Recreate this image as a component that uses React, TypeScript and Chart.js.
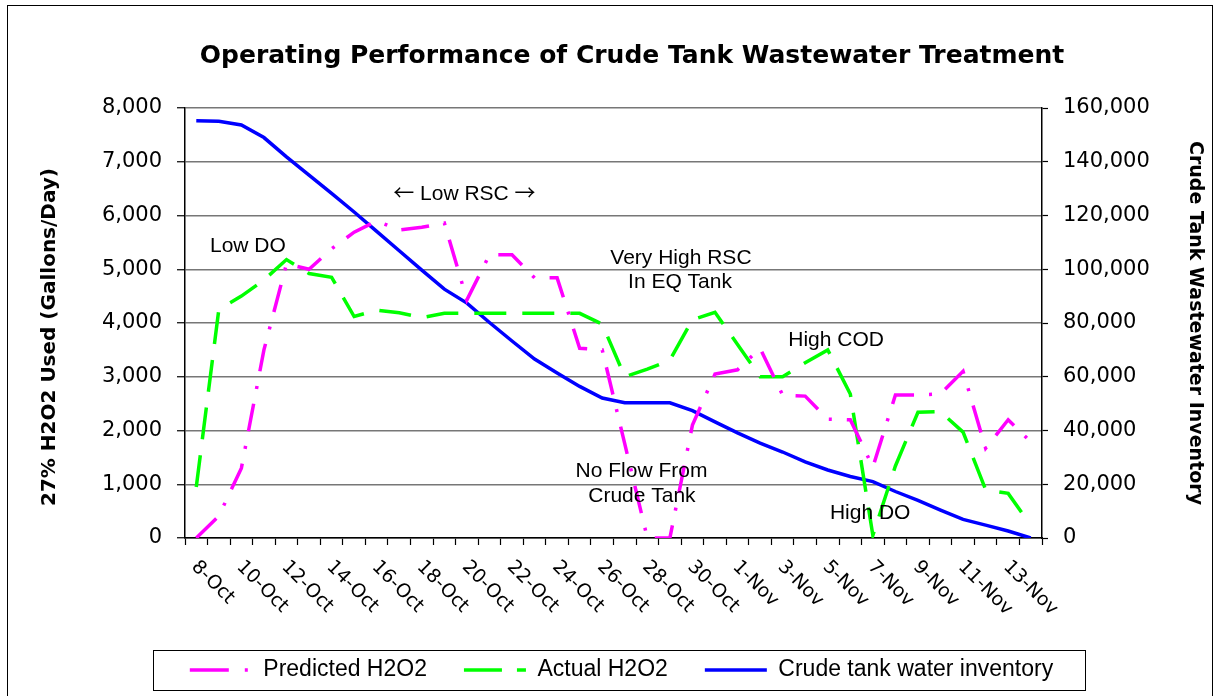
import React, { useEffect, useRef } from 'react';
import { Chart, registerables } from 'chart.js';

Chart.register(...registerables);

const dates = [
  '8-Oct', '9-Oct', '10-Oct', '11-Oct', '12-Oct', '13-Oct', '14-Oct', '15-Oct', '16-Oct', '17-Oct',
  '18-Oct', '19-Oct', '20-Oct', '21-Oct', '22-Oct', '23-Oct', '24-Oct', '25-Oct', '26-Oct', '27-Oct',
  '28-Oct', '29-Oct', '30-Oct', '31-Oct', '1-Nov', '2-Nov', '3-Nov', '4-Nov', '5-Nov', '6-Nov',
  '7-Nov', '8-Nov', '9-Nov', '10-Nov', '11-Nov', '12-Nov', '13-Nov', '14-Nov',
];

const predictedH2O2 = [
  0, 410, 1300, 3500, 5100, 5000, 5380, 5690, 5900, 5730,
  5780, 5860, 4430, 5270, 5270, 4840, 4840, 3530, 3500, 1750,
  0, 0, 2100, 3050, 3130, 3530, 2660, 2640, 2210, 2200,
  1320, 2660, 2660, 2680, 3100, 1670, 2200, 1790,
];

const actualH2O2 = [
  950, 4250, 4500, 4800, 5180, 4920, 4850, 4120, 4240, 4190,
  4100, 4180, 4180, 4180, 4180, 4180, 4180, 4180, 3980, 3000,
  3140, 3310, 4060, 4200, 3600, 3000, 3000, 3260, 3500, 2680,
  50, 1340, 2340, 2350, 1970, 900, 830, 240,
];

const inventory = [
  155300, 155100, 153700, 149000, 141800, 135000, 128200, 121300, 114100, 106900,
  99700, 92600, 87400, 80200, 73300, 66600, 61400, 56400, 52100, 50300,
  50300, 50300, 47400, 43200, 39100, 35300, 32000, 28300, 25300, 22900,
  21000, 17300, 14000, 10400, 6900, 4800, 2600, 0,
];

const seriesNames = ['Predicted H2O2', 'Actual H2O2', 'Crude tank water inventory'];
const chartTitle = 'Operating Performance of Crude Tank Wastewater Treatment';
const leftAxisTitle = '27% H2O2 Used (Gallons/Day)';
const rightAxisTitle = 'Crude Tank Wastewater Inventory';

const annotationText = ['Low DO', '\u2190 Low RSC \u2192', 'Very High RSC', 'In EQ Tank', 'High COD', 'No Flow From', 'Crude Tank', 'High DO'];
const annotationIdx = [2.29, 11.89, 21.49, 21.45, 28.37, 19.74, 19.76, 29.88];
const annotationVal = [5327, 6288, 5098, 4651, 3572, 1140, 675, 348];

const ARROWS = '\u2190\u2192';
const BASE_FONT = '21px "Liberation Sans"';
const ARROW_FONT = '21px "Noto Sans CJK SC"';

function drawMixedCentered(ctx: CanvasRenderingContext2D, text: string, cx: number, y: number) {
  const runs: { s: string; font: string }[] = [];
  for (const ch of Array.from(text)) {
    const font = ARROWS.includes(ch) ? ARROW_FONT : BASE_FONT;
    const last = runs[runs.length - 1];
    if (last && last.font === font) last.s += ch;
    else runs.push({ s: ch, font });
  }
  let total = 0;
  const widths = runs.map((r) => {
    ctx.font = r.font;
    const w = ctx.measureText(r.s).width;
    total += w;
    return w;
  });
  let xx = cx - total / 2;
  ctx.textAlign = 'left';
  runs.forEach((r, k) => {
    ctx.font = r.font;
    ctx.fillText(r.s, xx, y);
    xx += widths[k];
  });
}

const decorPlugin = {
  id: 'decor',
  afterDraw(chart: any) {
    const { ctx, scales } = chart;
    const x = scales.x;
    const y = scales.y;
    ctx.save();
    // outer frame
    ctx.strokeStyle = '#000';
    ctx.lineWidth = 1;
    ctx.setLineDash([]);
    ctx.strokeRect(7.5, 5.5, 1205, 700);

    ctx.fillStyle = '#000';
    // title
    ctx.font = 'bold 25px "DejaVu Sans"';
    ctx.textAlign = 'center';
    ctx.textBaseline = 'alphabetic';
    ctx.fillText(chartTitle, 632, 63);

    // axis titles
    ctx.save();
    ctx.translate(50, 337);
    ctx.rotate(-Math.PI / 2);
    ctx.font = 'bold 20px "DejaVu Sans"';
    ctx.textBaseline = 'middle';
    ctx.fillText(leftAxisTitle, 0, 0);
    ctx.restore();

    ctx.save();
    ctx.translate(1195, 323);
    ctx.rotate(Math.PI / 2);
    ctx.font = 'bold 19px "DejaVu Sans"';
    ctx.textBaseline = 'middle';
    ctx.fillText(rightAxisTitle, 0, 0);
    ctx.restore();

    // rotated category labels (every second day)
    ctx.font = '19px "DejaVu Sans"';
    ctx.textAlign = 'left';
    ctx.textBaseline = 'middle';
    const axisY = x.top;
    dates.forEach((d, i) => {
      if (i % 2 !== 0) return;
      const px = x.getPixelForValue(i);
      ctx.save();
      ctx.translate(px - 2, axisY + 26);
      ctx.rotate(Math.PI / 4);
      ctx.fillText(d, 0, 0);
      ctx.restore();
    });

    // annotations
    ctx.textBaseline = 'alphabetic';
    annotationText.forEach((t, k) => {
      drawMixedCentered(ctx, t, x.getPixelForValue(annotationIdx[k]), y.getPixelForValue(annotationVal[k]));
    });

    // legend border
    const legend = chart.legend;
    if (legend && legend.legendHitBoxes && legend.legendHitBoxes.length) {
      const hb = legend.legendHitBoxes;
      const first = hb[0];
      const last = hb[hb.length - 1];
      const cy = first.top + first.height / 2;
      const l = Math.round(first.left - 37) + 0.5;
      const r = Math.round(last.left + last.width + 32) + 0.5;
      ctx.strokeStyle = '#000';
      ctx.lineWidth = 1;
      ctx.strokeRect(l, Math.round(cy - 20) + 0.5, r - l, 40);
    }
    ctx.restore();
  },
};

export default function App() {
  const canvasRef = useRef<HTMLCanvasElement | null>(null);

  useEffect(() => {
    document.body.style.margin = '0';
    document.body.style.overflow = 'hidden';
    const canvas = canvasRef.current;
    if (!canvas) return;
    const chart = new Chart(canvas, {
      type: 'line',
      data: {
        labels: dates,
        datasets: [
          {
            label: seriesNames[0],
            data: predictedH2O2,
            borderColor: '#FF00FF',
            backgroundColor: '#FF00FF',
            borderWidth: 3.5,
            borderDash: [28, 15, 3, 15],
            pointRadius: 0,
            tension: 0,
            yAxisID: 'y',
          },
          {
            label: seriesNames[1],
            data: actualH2O2,
            borderColor: '#00FF00',
            backgroundColor: '#00FF00',
            borderWidth: 3.5,
            borderDash: [32, 16],
            pointRadius: 0,
            tension: 0,
            yAxisID: 'y',
          },
          {
            label: seriesNames[2],
            data: inventory,
            borderColor: '#0000FF',
            backgroundColor: '#0000FF',
            borderWidth: 3.5,
            pointRadius: 0,
            tension: 0,
            yAxisID: 'y1',
          },
        ],
      },
      options: {
        animation: false,
        responsive: true,
        maintainAspectRatio: false,
        events: [],
        layout: { padding: { left: 25, right: 0, top: 108, bottom: 4.5 } },
        plugins: {
          title: { display: false },
          tooltip: { enabled: false },
          legend: {
            position: 'bottom',
            labels: {
              usePointStyle: true,
              pointStyle: 'line',
              pointStyleWidth: 62,
              color: '#000',
              padding: 37,
              font: { family: 'Liberation Sans', size: 23 },
              generateLabels: (c: any) => {
                const items = (Chart as any).defaults.plugins.legend.labels.generateLabels(c);
                items[0].lineDash = [39, 16, 3, 100];
                items[1].lineDash = [38, 15];
                return items;
              },
            },
          },
        },
        scales: {
          x: {
            type: 'category',
            offset: true,
            grid: {
              display: true,
              drawOnChartArea: false,
              drawTicks: true,
              tickLength: 7,
              tickColor: '#000',
              tickWidth: 1.2,
              offset: true,
            },
            border: { display: true, color: '#000', width: 1.5 },
            ticks: { display: false, autoSkip: false },
            afterFit: (s: any) => {
              s.height = 83.5;
            },
          },
          y: {
            position: 'left',
            min: 0,
            max: 8000,
            ticks: {
              stepSize: 1000,
              color: '#000',
              padding: 15,
              font: { family: 'DejaVu Sans', size: 21 },
              callback: (v: any) => Number(v).toLocaleString('en-US'),
            },
            grid: { color: '#777', lineWidth: 1.5, tickLength: 8, tickColor: '#000', tickWidth: 1.2 },
            border: { color: '#000', width: 1.5 },
            afterFit: (s: any) => {
              s.width = 160;
            },
          },
          y1: {
            position: 'right',
            min: 0,
            max: 160000,
            ticks: {
              stepSize: 20000,
              color: '#000',
              padding: 15,
              font: { family: 'DejaVu Sans', size: 21 },
              callback: (v: any) => Number(v).toLocaleString('en-US'),
            },
            grid: { drawOnChartArea: false, tickLength: 6, tickColor: '#000', tickWidth: 1.2 },
            border: { color: '#000', width: 1.5 },
            afterFit: (s: any) => {
              s.width = 176;
            },
          },
        },
      } as any,
      plugins: [decorPlugin],
    });
    return () => chart.destroy();
  }, []);

  return (
    <div style={{ position: 'relative', width: '1218px', height: '696px', background: '#fff' }}>
      <canvas ref={canvasRef} />
    </div>
  );
}
